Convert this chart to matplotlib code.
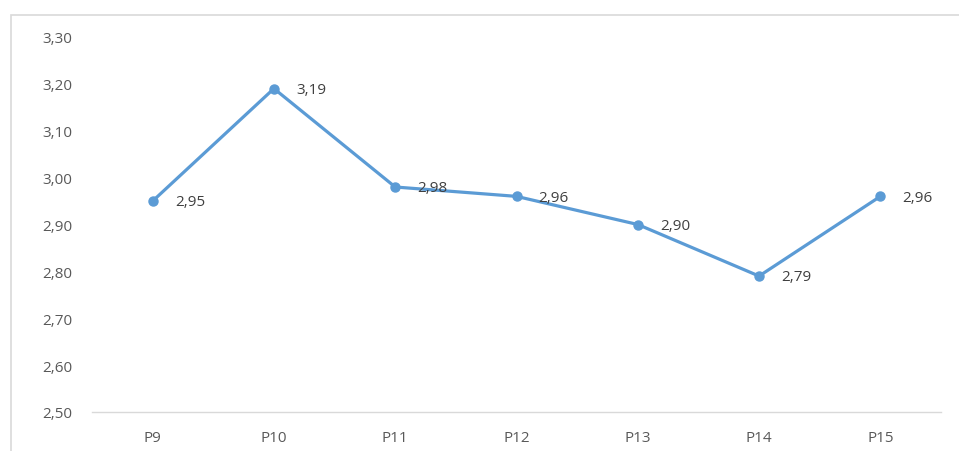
import matplotlib
matplotlib.use("Agg")
import matplotlib.pyplot as plt
from matplotlib.patches import Rectangle

categories = ["P9", "P10", "P11", "P12", "P13", "P14", "P15"]
values = [2.95, 3.19, 2.98, 2.96, 2.90, 2.79, 2.96]
y_ticks = [2.50, 2.60, 2.70, 2.80, 2.90, 3.00, 3.10, 3.20, 3.30]

plt.rcParams['font.family'] = ['Open Sans', 'DejaVu Sans']

fig = plt.figure(figsize=(9.59, 4.52), dpi=100)
fig.patch.set_facecolor("white")
# outer chart border (light gray)
fig.add_artist(Rectangle((11/959, -0.1), 1.2, 1.1 - 16/452, transform=fig.transFigure,
                         fill=False, edgecolor="#d9d9d9", linewidth=1.2))

ax = fig.add_axes([92/959, 1 - 413/452, (941 - 92)/959, (413 - 38)/452])
x = list(range(len(categories)))
color = "#5B9BD5"
ax.plot(x, values, color=color, linewidth=2.3, marker="o", markersize=6.5,
        markerfacecolor=color, markeredgecolor=color, solid_joinstyle="round")

for xi, v in zip(x, values):
    ax.annotate(f"{v:.2f}".replace(".", ","), (xi, v), xytext=(16, -0.5),
                textcoords="offset points", ha="left", va="center",
                fontsize=11, color="#404040")

ax.set_xlim(-0.5, len(categories) - 0.5)
ax.set_ylim(2.50, 3.30)
ax.set_xticks(x)
ax.set_xticklabels(categories)
ax.set_yticks(y_ticks)
ax.set_yticklabels([f"{t:.2f}".replace(".", ",") for t in y_ticks])
ax.tick_params(axis="both", length=0, labelsize=11, labelcolor="#595959")
ax.tick_params(axis="y", pad=14)
ax.tick_params(axis="x", pad=13)
for s in ["top", "right", "left"]:
    ax.spines[s].set_visible(False)
ax.spines["bottom"].set_color("#d9d9d9")
ax.spines["bottom"].set_linewidth(1.0)
ax.set_facecolor("white")

fig.savefig("out.png", dpi=100, facecolor="white")
